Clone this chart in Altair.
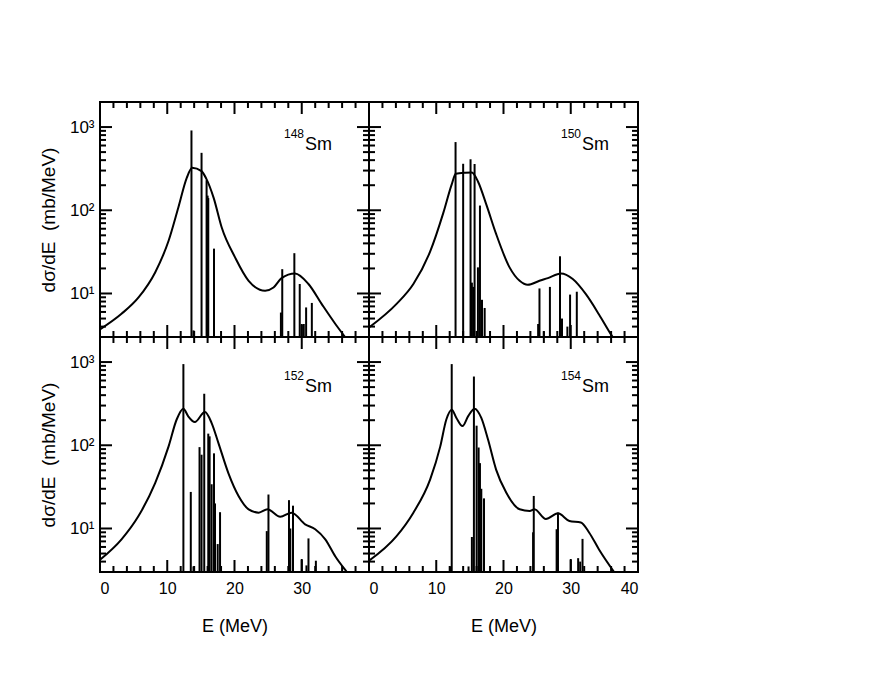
import altair as alt
import pandas as pd

# ---------------- data ----------------
ISOTOPES = ["148", "150", "152", "154"]

# smooth strength functions (E in MeV, dsigma/dE in mb/MeV)
curve148_E = [0, 3.2, 5.7, 8.2, 10.2, 11.65, 12.9, 13.7, 15.1, 15.8, 16.9, 18.1, 20.1, 22.1,
              24.55, 25.8, 27.0, 29.0, 31.0, 33.0, 35.0, 36.5, 37.2]
curve148_v = [3.7, 5.7, 8.9, 17.9, 43, 108, 245, 325, 295, 240, 141, 62, 27, 14.2,
              10.8, 11.8, 15.3, 17.4, 13, 7.4, 4.3, 2.96, 2.5]

curve150_E = [0, 4.1, 6.6, 9.1, 11.05, 12.3, 12.9, 14.3, 15.3, 16.2, 17.45, 18.9, 20.9, 22.4,
              23.6, 25.35, 26.6, 28.55, 30.3, 32.25, 34.2, 35.95, 36.6]
curve150_v = [3.9, 7.5, 13, 32, 93, 205, 275, 283, 285, 222, 117, 52, 20.6, 14.2,
              12.7, 14.2, 15.3, 17.4, 14.9, 9.8, 5.6, 3.25, 2.7]

curve152_E = [0, 3.2, 5.7, 8.2, 10.2, 11.4, 12.4, 13.1, 14.1, 15.6, 16.6, 17.6, 19.1, 20.6,
              22.1, 23.6, 24.9, 26.8, 28.5, 30.5, 32.0, 33.5, 35.0, 36.7, 37.3]
curve152_v = [4.2, 7.4, 14, 35, 97, 204, 275, 224, 190, 251, 185, 107, 46, 24.6,
              17, 15.5, 17, 13.8, 15.5, 11.2, 9.8, 7.4, 4.6, 3.0, 2.6]

curve154_E = [0, 4.1, 6.6, 9.1, 10.6, 11.5, 12.3, 13.0, 13.9, 14.75, 15.7, 16.7, 17.7, 18.9,
              20.4, 22.4, 23.9, 24.6, 26.3, 28.1, 29.8, 31.5, 32.75, 34.2, 36.45, 37.0]
curve154_v = [4.1, 8.1, 15.5, 39, 97, 204, 268, 213, 170, 224, 275, 213, 117, 51,
              27, 17, 16.2, 17, 13, 15.2, 12.3, 11.8, 8.9, 5.6, 3.0, 2.6]

# discrete transition strengths (sticks)
bars148_E = [13.6, 13.9, 15.1, 15.85, 16.0, 16.1, 16.95, 26.9, 27.1, 28.9, 29.7, 30.0, 30.3, 30.65, 31.5]
bars148_v = [910, 3.6, 490, 230, 150, 140, 34.6, 5.9, 19.6, 30.5, 13, 4.3, 4.3, 6.8, 7.7]

bars150_E = [12.87, 14.0, 15.1, 15.3, 15.5, 15.7, 16.2, 16.5, 16.8, 17.2,
             25.15, 25.35, 26.0, 26.9, 28.4, 28.7, 29.5, 29.9, 30.9]
bars150_v = [660, 362, 410, 13.5, 12, 360, 20.6, 114, 8.4, 6.7,
             4.3, 11.5, 3.5, 12, 28, 5, 4, 9.7, 10.5]

bars152_E = [12.4, 13.5, 13.9, 14.8, 15.1, 15.5, 16.1, 16.3, 16.6, 16.95, 17.1, 17.5, 17.85,
             24.8, 25.05, 28.1, 28.3, 28.7, 30.0, 30.7, 31.0, 32.1]
bars152_v = [945, 27.5, 3.5, 95, 77, 416, 138, 128, 34, 80, 20, 6.5, 15.7,
             9.3, 25.6, 21.9, 10, 18.8, 4.3, 3.6, 7.6, 4.1]

bars154_E = [12.1, 12.3, 14.8, 15.3, 15.6, 16.0, 16.3, 16.5, 16.7, 17.1,
             24.4, 24.5, 27.9, 28.1, 30.0, 31.1, 31.4, 31.75]
bars154_v = [3.5, 945, 3.5, 7.9, 670, 172, 94, 61, 30, 23,
             9, 24.6, 9.8, 15.5, 4.3, 4.4, 4.0, 7.5]

# axis tick values
Y_MAJOR = [10, 100, 1000]
Y_MINOR = [4, 5, 6, 7, 8, 9, 20, 30, 40, 50, 60, 70, 80, 90, 200, 300, 400, 500, 600, 700, 800, 900]
X_MAJOR = [10, 20, 30]
X_MINOR = [2, 4, 6, 8, 12, 14, 16, 18, 22, 24, 26, 28, 32, 34, 36, 38]
X_LABELS_LEFT = [0, 10, 20, 30]
X_LABELS_RIGHT = [0, 10, 20, 30, 40]

# ---------------- layout ----------------
W, H = 269, 235
MAJ, MIN = 12, 6
FONT = "Liberation Sans"

xs = alt.Scale(domain=[0, 40], nice=False, zero=False)
ys = alt.Scale(type="log", domain=[3, 2000], nice=False)


def panel(cE, cv, bE, bv, iso, left, bottom, sm_x, sm_y):
    if bottom:
        xaxis = alt.Axis(values=X_LABELS_LEFT if left else X_LABELS_RIGHT, ticks=False, domain=False,
                         grid=False, labelFontSize=16, labelPadding=8, labelColor="black",
                         labelOverlap=False, title="E (MeV)", titleFontSize=18, titlePadding=21,
                         titleFontWeight="normal", titleColor="black")
    else:
        xaxis = None
    if left:
        yaxis = alt.Axis(values=Y_MAJOR, ticks=False, domain=False, grid=False,
                         labelExpr="datum.value == 1000 ? '10³' : datum.value == 100 ? '10²' : '10¹'",
                         labelFontSize=17, labelPadding=6, labelColor="black",
                         title="dσ/dE\u00a0\u00a0(mb/MeV)", titleFontSize=19, titlePadding=11,
                         titleFontWeight="normal", titleColor="black")
    else:
        yaxis = None

    def X(field):
        return alt.X(field, scale=xs, axis=xaxis)

    def Y(field):
        return alt.Y(field, scale=ys, axis=yaxis)

    curve = alt.Chart(pd.DataFrame({"E": cE, "v": cv})).mark_line(
        color="black", strokeWidth=2, interpolate="monotone", clip=True
    ).encode(x=X("E:Q"), y=Y("v:Q"))

    bars = alt.Chart(pd.DataFrame({"E": bE, "v": bv})).mark_rule(
        color="black", strokeWidth=2, clip=True
    ).encode(x=X("E:Q"), y=Y("v:Q"), y2=alt.value(H))

    layers = [curve, bars]
    ymaj = pd.DataFrame({"v": Y_MAJOR})
    ymin = pd.DataFrame({"v": Y_MINOR})
    xmaj = pd.DataFrame({"E": X_MAJOR})
    xmin = pd.DataFrame({"E": X_MINOR})
    for df, ln in ((ymaj, MAJ), (ymin, MIN)):
        for x0, x1 in ((0, ln), (W, W - ln)):
            layers.append(alt.Chart(df).mark_rule(color="black", strokeWidth=2).encode(
                y=Y("v:Q"), x=alt.value(x0), x2=alt.value(x1)))
    for df, ln in ((xmaj, MAJ), (xmin, MIN)):
        for y0, y1 in ((H, H - ln), (0, ln)):
            layers.append(alt.Chart(df).mark_rule(color="black", strokeWidth=2).encode(
                x=X("E:Q"), y=alt.value(y0), y2=alt.value(y1)))

    lab = pd.DataFrame({"num": [iso], "el": ["Sm"]})
    layers.append(alt.Chart(lab).mark_text(align="right", baseline="alphabetic", fontSize=12,
                                           color="black").encode(
        text="num:N", x=alt.value(sm_x - 1), y=alt.value(sm_y - 12)))
    layers.append(alt.Chart(lab).mark_text(align="left", baseline="alphabetic", fontSize=18,
                                           color="black").encode(
        text="el:N", x=alt.value(sm_x), y=alt.value(sm_y)))

    return alt.layer(*layers).properties(width=W, height=H)


p1 = panel(curve148_E, curve148_v, bars148_E, bars148_v, ISOTOPES[0], True, False, 205, 48)
p2 = panel(curve150_E, curve150_v, bars150_E, bars150_v, ISOTOPES[1], False, False, 213, 48)
p3 = panel(curve152_E, curve152_v, bars152_E, bars152_v, ISOTOPES[2], True, True, 205, 55)
p4 = panel(curve154_E, curve154_v, bars154_E, bars154_v, ISOTOPES[3], False, True, 213, 55)

chart = alt.concat(p1, p2, p3, p4, columns=2, spacing=0, bounds="flush").properties(
    padding={"left": 30, "top": 92, "right": 5, "bottom": 5}
).configure(font=FONT).configure_view(stroke="black", strokeWidth=2)

chart.save("out.html", embed_options={"renderer": "svg", "actions": False})
